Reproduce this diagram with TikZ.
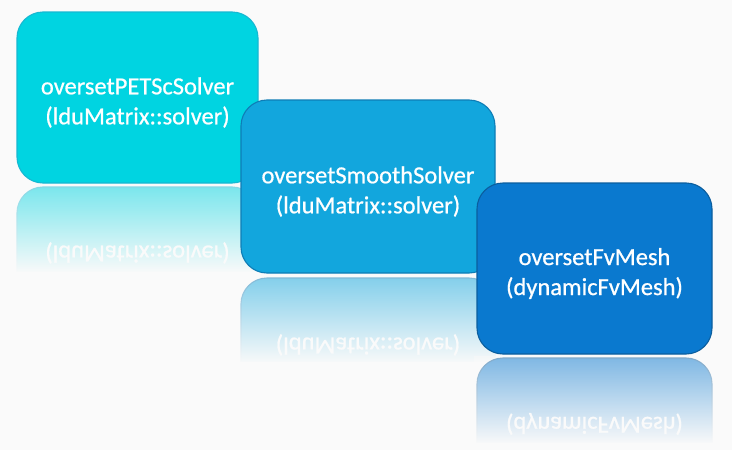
\documentclass[tikz,border=0pt]{standalone}
\usepackage{fontspec}
\setmainfont{Carlito}
\newfontfamily\boxfont{Carlito}[FakeBold=0.7]
\usetikzlibrary{fadings}
\definecolor{bg}{HTML}{FAFAFA}
\definecolor{cA}{HTML}{00D4E1}
\definecolor{cAd}{HTML}{16B8D2}
\definecolor{cB}{HTML}{12A6DD}
\definecolor{cBd}{HTML}{0E7DB6}
\definecolor{cC}{HTML}{0A79CF}
\definecolor{cCd}{HTML}{0B5E9E}
\tikzfading[name=reflfade, top color=transparent!52, middle color=transparent!30, bottom color=transparent!0]
\tikzset{
  boxshape/.style={draw=#1, line width=1.1pt, rounded corners=26pt, inner sep=0pt},
  boxtext/.style={text=white, align=center, font=\boxfont\fontsize{24.5}{30}\selectfont},
}
% #1 name, #2 x1, #3 y1, #4 x2, #5 y2, #6 fill, #7 border, #8 axis; text in \la, \lb
\newcommand{\mybox}[8]{%
  \begin{scope}
    \clip (#2-3,#8) rectangle (#4+3,#8+86);
    \begin{scope}[shift={(0,#8)}, yscale=-1, shift={(0,-#8)}]
      \node[boxshape=#7, fill=#6, minimum width=#4-#2, minimum height=#5-#3, transform shape]
        (#1r) at ({(#2+#4)/2},{(#3+#5)/2}) {};
      \node[boxtext, transform shape] (#1rt) at ({(#2+#4)/2},{(#3+#5)/2+5}) {\phantom{\la}\\\lb};
    \end{scope}
  \end{scope}
  \fill[bg, path fading=reflfade] (#2-3,#8) rectangle (#4+3,#8+88);
  \node[boxshape=#7, fill=#6, minimum width=#4-#2, minimum height=#5-#3]
    (#1) at ({(#2+#4)/2},{(#3+#5)/2}) {};
  \node[boxtext] (#1t) at ({(#2+#4)/2},{(#3+#5)/2+5}) {\la\\\lb};
}
\begin{document}
\begin{tikzpicture}[x=1pt, y=-1pt]
  \fill[bg] (0,0) rectangle (732,450);
  \useasboundingbox (0,0) rectangle (732,450);
  \def\la{oversetPETScSolver}\def\lb{(lduMatrix::solver)}
  \mybox{petsc}{17}{12}{258}{183}{cA}{cAd}{185}
  \def\la{oversetSmoothSolver}\def\lb{(lduMatrix::solver)}
  \mybox{smooth}{241}{100}{495}{273}{cB}{cBd}{275.5}
  \def\la{oversetFvMesh}\def\lb{(dynamicFvMesh)}
  \mybox{mesh}{477}{183}{712}{354}{cC}{cCd}{356}
\end{tikzpicture}
\end{document}
